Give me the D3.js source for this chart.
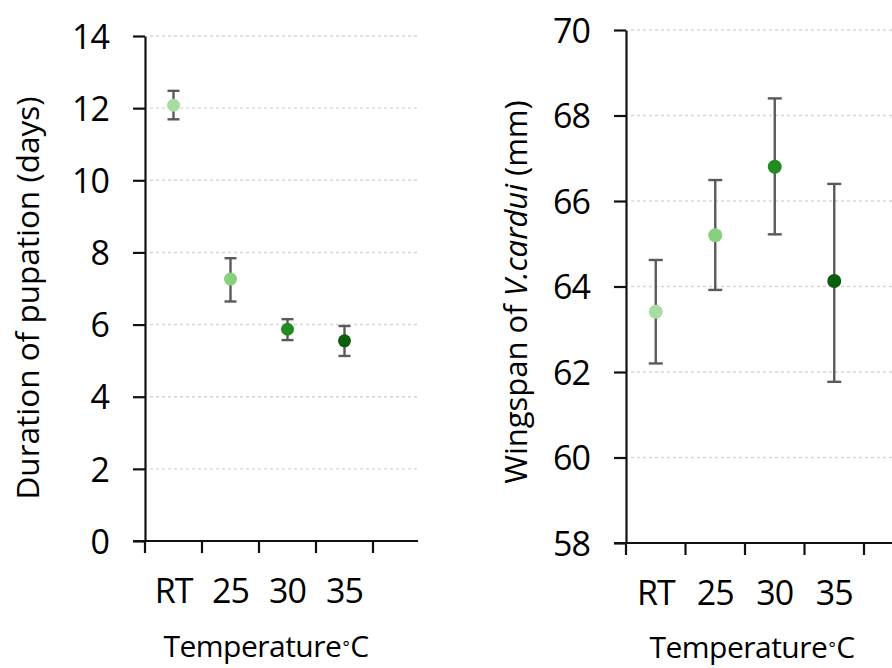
<!DOCTYPE html>
<html>
<head>
<meta charset="utf-8">
<script src="https://cdn.jsdelivr.net/npm/d3@7/dist/d3.min.js"></script>
<style>
  html, body { margin: 0; padding: 0; background: #fff; }
  svg { display: block; }
  text { font-family: "Open Sans", "Noto Sans", sans-serif; fill: #000; }
</style>
</head>
<body>
<svg id="chart" width="892" height="668"></svg>
<script>
// ---- Data ----
const categories = ["RT", "25", "30", "35"];
const colors = ["#a8dda2", "#86d07e", "#228b22", "#0b5e0b"];

// Left panel: duration of pupation (days)
const pupationMean  = [12.08, 7.26, 5.87, 5.55];
const pupationUpper = [12.48, 7.84, 6.15, 5.96];
const pupationLower = [11.69, 6.64, 5.57, 5.13];
const pupationTicks = [0, 2, 4, 6, 8, 10, 12, 14];

// Right panel: wingspan (mm)
const wingMean  = [63.41, 65.20, 66.80, 64.13];
const wingUpper = [64.62, 66.49, 68.40, 66.40];
const wingLower = [62.20, 63.92, 65.22, 61.77];
const wingTicks = [58, 60, 62, 64, 66, 68, 70];

const svg = d3.select("#chart");

function panel(cfg) {
  const g = svg.append("g");
  const x = d3.scaleBand().domain(categories).range([cfg.x0, cfg.x1]);
  const y = d3.scaleLinear().domain(cfg.domain).range([cfg.y0, cfg.y1]);

  // gridlines
  g.selectAll("line.grid").data(cfg.ticks.slice(1)).join("line")
    .attr("class", "grid")
    .attr("x1", cfg.x0 + 5).attr("x2", cfg.gridEnd)
    .attr("y1", d => y(d)).attr("y2", d => y(d))
    .attr("stroke", "#d6d6d6").attr("stroke-width", 1.4)
    .attr("stroke-dasharray", "3,3");

  // y axis
  const yAxis = d3.axisLeft(y).tickValues(cfg.ticks).tickSize(12).tickSizeOuter(0).tickPadding(24);
  const ya = g.append("g").attr("transform", `translate(${cfg.x0},0)`).call(yAxis);
  ya.select(".domain").attr("stroke", "#111").attr("stroke-width", 2.2);
  ya.selectAll(".tick line").attr("stroke", "#111").attr("stroke-width", 2.2);
  ya.selectAll(".tick text")
    .style("font-size", "34px").style("letter-spacing", "-1px")
    .style("font-family", "'Open Sans', sans-serif")
    .attr("fill", "#000").attr("dy", "0.36em");

  // x axis line
  g.append("line")
    .attr("x1", cfg.x0 - 12).attr("x2", cfg.axisEnd)
    .attr("y1", y(cfg.domain[0])).attr("y2", y(cfg.domain[0]))
    .attr("stroke", "#111").attr("stroke-width", 2.2);
  // x tick marks at band boundaries
  const bounds = categories.map(c => x(c)).concat([x.range()[1]]);
  g.selectAll("line.xt").data(bounds).join("line")
    .attr("class", "xt")
    .attr("x1", d => d).attr("x2", d => d)
    .attr("y1", y(cfg.domain[0])).attr("y2", y(cfg.domain[0]) + 12)
    .attr("stroke", "#111").attr("stroke-width", 2.2);
  // x labels
  g.selectAll("text.xl").data(categories).join("text")
    .attr("class", "xl")
    .attr("x", d => x(d) + x.bandwidth() / 2)
    .attr("y", cfg.labelY)
    .attr("text-anchor", "middle")
    .style("font-size", "34px").style("letter-spacing", "-1px")
    .text(d => d);

  // error bars
  const cx = d => x(d) + x.bandwidth() / 2;
  categories.forEach((c, i) => {
    const xc = cx(c);
    g.append("line").attr("x1", xc).attr("x2", xc)
      .attr("y1", y(cfg.upper[i])).attr("y2", y(cfg.lower[i]))
      .attr("stroke", "#5a5a5a").attr("stroke-width", 2.4);
    [cfg.upper[i], cfg.lower[i]].forEach(v => {
      g.append("line").attr("x1", xc - cfg.cap).attr("x2", xc + cfg.cap)
        .attr("y1", y(v)).attr("y2", y(v))
        .attr("stroke", "#5a5a5a").attr("stroke-width", 2.4);
    });
  });
  // points
  g.selectAll("circle").data(categories).join("circle")
    .attr("cx", d => cx(d))
    .attr("cy", (d, i) => y(cfg.mean[i]))
    .attr("r", cfg.r)
    .attr("fill", (d, i) => colors[i]);

  // x title
  const xt = g.append("text")
    .attr("x", cfg.xTitleX).attr("y", cfg.xTitleY)
    .attr("text-anchor", "middle")
    .style("font-size", "30px").style("letter-spacing", "-0.5px");
  xt.append("tspan").text("Temperature");
  xt.append("tspan").text("°").style("font-size", "17px").attr("dy", "-0.25em").attr("dx", "1");
  xt.append("tspan").text("C").attr("dy", "4").attr("dx", "1");

  // y title
  const yt = g.append("text")
    .attr("transform", `translate(${cfg.yTitleX},${cfg.yTitleY}) rotate(-90)`)
    .attr("text-anchor", "middle")
    .style("font-size", cfg.yTitleSize);
  cfg.yTitle(yt);
}

panel({
  x0: 145, x1: 373, axisEnd: 418, gridEnd: 418,
  y0: 541, y1: 36, domain: [0, 14], ticks: pupationTicks,
  mean: pupationMean, upper: pupationUpper, lower: pupationLower,
  labelY: 603, cap: 6, r: 6.5,
  xTitleX: 266, xTitleY: 657,
  yTitleX: 39, yTitleY: 298, yTitleSize: "31.5px",
  yTitle: t => t.text("Duration of pupation (days)")
});

panel({
  x0: 626, x1: 864, axisEnd: 900, gridEnd: 900,
  y0: 543, y1: 30, domain: [58, 70], ticks: wingTicks,
  mean: wingMean, upper: wingUpper, lower: wingLower,
  labelY: 605, cap: 7, r: 7,
  xTitleX: 752, xTitleY: 658,
  yTitleX: 527, yTitleY: 292, yTitleSize: "31px",
  yTitle: t => {
    t.append("tspan").text("Wingspan of ");
    t.append("tspan").text("V.cardui").style("font-style", "italic");
    t.append("tspan").text(" (mm)");
  }
});
</script>
</body>
</html>
